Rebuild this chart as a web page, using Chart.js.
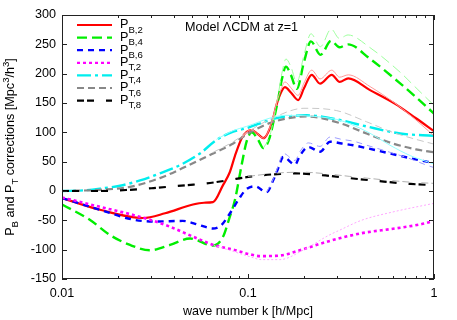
<!DOCTYPE html>
<html>
<head>
<meta charset="utf-8">
<script src="https://cdn.jsdelivr.net/npm/chart.js@4/dist/chart.umd.min.js"></script>
<style>
  html, body { margin: 0; padding: 0; background: #fff; }
  #wrap { width: 457px; height: 320px; }
</style>
</head>
<body>
<div id="wrap"><canvas id="corrCanvas" width="457" height="320"></canvas></div>
<script>
// values (k in h/Mpc, corrections in Mpc^3/h^3)
const kB2 = [0.01, 0.016, 0.0272, 0.0358, 0.0506, 0.058, 0.0648, 0.0734, 0.0798, 0.0851, 0.0925, 0.0984, 0.1047, 0.113, 0.121, 0.134, 0.143, 0.15, 0.158, 0.17, 0.186, 0.2, 0.22, 0.244, 0.282, 0.311, 0.346, 0.453, 0.615, 0.8, 1.0];
const pB2 = [-12, -32, -46, -38, -23, -20, -19, 10, 32, 60, 90, 101, 104, 97, 90, 115, 149, 167, 177, 168, 155, 175, 198, 183, 198, 186, 192, 172, 149, 124, 102];
const kB2thin = [0.0925, 0.0984, 0.1047, 0.113, 0.121, 0.134, 0.143, 0.15, 0.158, 0.17, 0.186, 0.2, 0.22, 0.244, 0.282, 0.311, 0.346, 0.453, 0.615, 0.8, 1.0];
const pB2thin = [90, 101, 104, 97, 90, 117, 152, 172, 186, 176, 163, 184, 206, 191, 206, 194, 198, 178, 150, 121, 94];

const kB4 = [0.01, 0.0141, 0.0181, 0.0232, 0.0297, 0.0381, 0.0488, 0.065, 0.0734, 0.0798, 0.0851, 0.0925, 0.0984, 0.1047, 0.113, 0.121, 0.131, 0.14, 0.145, 0.152, 0.16, 0.17, 0.183, 0.2, 0.218, 0.245, 0.28, 0.31, 0.345, 0.45, 0.66, 0.8, 1.0];
const pB4 = [-23, -49, -75, -92, -101, -92, -81, -93, -78, -44, -15, 45, 85, 100, 88, 73, 92, 132, 155, 190, 212, 198, 174, 220, 255, 232, 256, 245, 250, 226, 183, 160, 132];
const kB4thin = [0.121, 0.131, 0.14, 0.145, 0.152, 0.16, 0.17, 0.183, 0.2, 0.218, 0.245, 0.28, 0.31, 0.345, 0.45, 0.66, 0.8, 1.0];
const pB4thin = [73, 94, 136, 162, 200, 225, 212, 185, 232, 268, 246, 276, 260, 266, 245, 202, 176, 146];

const kB6 = [0.01, 0.016, 0.0243, 0.0321, 0.0445, 0.0546, 0.0647, 0.072, 0.08, 0.09, 0.098, 0.109, 0.126, 0.137, 0.145, 0.155, 0.179, 0.19, 0.211, 0.244, 0.276, 0.319, 0.368, 0.435, 0.58, 0.743, 0.914, 1.0];
const pB6 = [-12, -32, -49, -52, -51, -58, -64, -58, -38, -12, 3, 8, -2, 19, 38, 58, 45, 60, 75, 67, 84, 81, 78, 73, 64, 56, 50, 48];
const kB6thin = [0.126, 0.137, 0.145, 0.155, 0.179, 0.19, 0.211, 0.244, 0.276, 0.319, 0.368, 0.435, 0.58, 0.743, 0.914, 1.0];
const pB6thin = [-2, 21, 42, 64, 52, 67, 82, 76, 92, 88, 85, 78, 66, 55, 44, 40];

const kT2 = [0.01, 0.016, 0.0223, 0.0297, 0.0381, 0.0508, 0.0652, 0.0833, 0.1025, 0.116, 0.148, 0.19, 0.269, 0.407, 0.615, 0.84, 1.0];
const pT2 = [-11, -27, -38, -49, -61, -78, -92, -100, -108, -111, -110, -101, -86, -72, -64, -57, -51];
const kT2thin = [0.0652, 0.0833, 0.1025, 0.118, 0.148, 0.2, 0.27, 0.31, 0.407, 0.615, 1.0];
const pT2thin = [-92, -103, -112, -117, -117, -100, -76, -67, -50, -35, -21];

const kT4 = [0.01, 0.013, 0.016, 0.0205, 0.0263, 0.0336, 0.043, 0.0552, 0.0677, 0.0833, 0.098, 0.137, 0.16, 0.207, 0.312, 0.434, 0.658, 1.0];
const pT4 = [0, 1, 4, 9, 18, 30, 44, 64, 87, 101, 107, 123, 127, 129, 121, 110, 98, 94];
const kT4thin = [0.0677, 0.0833, 0.098, 0.137, 0.16, 0.207, 0.3, 0.35, 0.45, 0.58, 0.75, 1.0];
const pT4thin = [88, 103, 110, 126, 129, 128, 122, 115, 99, 78, 60, 46];

const kT6 = [0.01, 0.016, 0.0232, 0.0336, 0.0445, 0.065, 0.0833, 0.1, 0.137, 0.207, 0.31, 0.434, 0.6, 0.8, 1.0];
const pT6 = [0, 2, 7, 22, 39, 64, 81, 98, 118, 127, 116, 98, 81, 71, 66];
const kT6thin = [0.065, 0.0833, 0.1, 0.137, 0.2, 0.3, 0.434, 0.6, 0.8, 1.0];
const pT6thin = [66, 84, 101, 125, 141, 137, 118, 100, 88, 80];

const kT8 = [0.01, 0.016, 0.023, 0.031, 0.047, 0.06, 0.077, 0.1, 0.12, 0.15, 0.18, 0.25, 0.35, 0.5, 0.75, 1.0];
const pT8 = [0, 0, 2, 5, 10, 13, 18, 24, 27, 29, 30, 27, 22, 17, 12, 10];
const kT8thin = [0.1, 0.15, 0.2, 0.25, 0.35, 0.5, 0.75, 1.0];
const pT8thin = [25, 31, 32, 30, 25, 20, 15, 13];

const xTicks = [0.01, 0.1, 1];
const yTicks = [-150, -100, -50, 0, 50, 100, 150, 200, 250, 300];

const legendItems = [
    { sub: "B,2", color: "#ff0000", dash: [] },
    { sub: "B,4", color: "#00ee00", dash: [10, 5] },
    { sub: "B,6", color: "#0000ff", dash: [6, 5] },
    { sub: "T,2", color: "#ff00ff", dash: [3, 3] },
    { sub: "T,4", color: "#00eeee", dash: [14, 4, 3, 4] },
    { sub: "T,6", color: "#888888", dash: [7, 4] },
    { sub: "T,8", color: "#000000", dash: [7, 3, 7, 12] },
];

const FONT = "Liberation Sans, Arial, Helvetica, sans-serif";

function pts(k, v) {
    return k.map((x, i) => ({ x: x, y: v[i] }));
}

function line(data, color, width, dash) {
    return {
        data: data,
        borderColor: color,
        borderWidth: width,
        borderDash: dash,
        pointRadius: 0,
        fill: false,
        cubicInterpolationMode: "monotone",
    };
}

const datasets = [
    line(pts(kB2thin, pB2thin), "#ff9a9a", 1, []),
    line(pts(kB4thin, pB4thin), "#9cff9c", 1, [10, 5]),
    line(pts(kB6thin, pB6thin), "#9c9cff", 1, [6, 5]),
    line(pts(kT2thin, pT2thin), "#ffa6ff", 1, [2, 2]),
    line(pts(kT4thin, pT4thin), "#90ffff", 1, []),
    line(pts(kT6thin, pT6thin), "#c8c8c8", 1, [7, 4]),
    line(pts(kT8thin, pT8thin), "#b0b0b0", 1, [7, 3, 7, 12]),
    line(pts(kT8, pT8), "#000000", 2.2, [7, 3, 7, 12]),
    line(pts(kT6, pT6), "#888888", 2.2, [7, 4]),
    line(pts(kT4, pT4), "#00eeee", 2.4, [14, 4, 3, 4]),
    line(pts(kT2, pT2), "#ff00ff", 2.6, [3, 3]),
    line(pts(kB6, pB6), "#0000ff", 2.4, [6, 5]),
    line(pts(kB4, pB4), "#00ee00", 2.4, [10, 5]),
    line(pts(kB2, pB2), "#ff0000", 2.2, []),
];

// frame, inward ticks, legend with subscripts, y title with sub/superscripts
const decorPlugin = {
    id: "decor",
    afterDraw(chart) {
        const ctx = chart.ctx;
        const a = chart.chartArea;
        const xs = chart.scales.x;
        const ys = chart.scales.y;
        ctx.save();

        ctx.strokeStyle = "#222";
        ctx.lineWidth = 1;
        ctx.setLineDash([]);
        ctx.strokeRect(a.left + 0.5, a.top + 0.5, a.right - a.left - 1, a.bottom - a.top - 1);

        ctx.beginPath();
        for (let d = 0.01; d < 1; d *= 10) {
            for (let m = 1; m <= 10; m++) {
                const v = d * m;
                const px = Math.round(xs.getPixelForValue(v)) + 0.5;
                const len = m === 1 || m === 10 ? 5 : 3;
                ctx.moveTo(px, a.bottom);
                ctx.lineTo(px, a.bottom - len);
                ctx.moveTo(px, a.top);
                ctx.lineTo(px, a.top + len);
            }
        }
        yTicks.forEach((v) => {
            const py = Math.round(ys.getPixelForValue(v)) + 0.5;
            ctx.moveTo(a.left, py);
            ctx.lineTo(a.left + 5, py);
            ctx.moveTo(a.right, py);
            ctx.lineTo(a.right - 5, py);
        });
        ctx.stroke();

        // legend
        ctx.textBaseline = "middle";
        ctx.textAlign = "left";
        legendItems.forEach((it, i) => {
            const y = 25 + i * 12.6;
            ctx.strokeStyle = it.color;
            ctx.lineWidth = 2.2;
            ctx.setLineDash(it.dash);
            ctx.beginPath();
            ctx.moveTo(77, y);
            ctx.lineTo(112, y);
            ctx.stroke();
            ctx.setLineDash([]);
            ctx.fillStyle = "#000";
            ctx.font = "12.6px " + FONT;
            ctx.fillText("P", 120, y);
            const w = ctx.measureText("P").width;
            ctx.font = "9.6px " + FONT;
            ctx.fillText(it.sub, 120 + w, y + 5);
        });

        // model label
        ctx.font = "12.6px " + FONT;
        ctx.fillText("Model \u039BCDM at z=1", 185, 28);

        // x title
        ctx.textAlign = "center";
        ctx.fillText("wave number k [h/Mpc]", (a.left + a.right) / 2, 312);

        // y title
        const parts = [
            ["P", 0], ["B", 1], [" and P", 0], ["T", 1],
            [" corrections [Mpc", 0], ["3", -1], ["/h", 0], ["3", -1], ["]", 0],
        ];
        const fontFor = (s) => (s === 0 ? "12.6px " : "9.6px ") + FONT;
        let total = 0;
        parts.forEach((p) => {
            ctx.font = fontFor(p[1]);
            total += ctx.measureText(p[0]).width;
        });
        ctx.translate(11, 147);
        ctx.rotate(-Math.PI / 2);
        ctx.textAlign = "left";
        let x = -total / 2;
        parts.forEach((p) => {
            ctx.font = fontFor(p[1]);
            const off = p[1] === 1 ? 4.5 : p[1] === -1 ? -5 : 0;
            ctx.fillText(p[0], x, off);
            x += ctx.measureText(p[0]).width;
        });
        ctx.restore();
    },
};

const ctx = document.getElementById("corrCanvas").getContext("2d");
const corrChart = new Chart(ctx, {
    type: "line",
    data: { datasets: datasets },
    options: {
        responsive: false,
        animation: false,
        events: [],
        layout: { padding: { left: 0, right: 23, top: 15, bottom: 0 } },
        plugins: {
            legend: { display: false },
            tooltip: { enabled: false },
        },
        scales: {
            x: {
                type: "logarithmic",
                min: 0.01,
                max: 1,
                afterBuildTicks: (scale) => {
                    scale.ticks = xTicks.map((v) => ({ value: v }));
                },
                afterFit: (scale) => {
                    scale.height = 41;
                },
                grid: { display: false, drawTicks: false },
                border: { display: false },
                ticks: {
                    color: "#000",
                    font: { family: FONT, size: 12.6 },
                    padding: 7,
                    maxRotation: 0,
                    autoSkip: false,
                    callback: (v) => String(v),
                },
            },
            y: {
                type: "linear",
                min: -150,
                max: 300,
                afterBuildTicks: (scale) => {
                    scale.ticks = yTicks.map((v) => ({ value: v }));
                },
                afterFit: (scale) => {
                    scale.width = 62;
                },
                grid: { display: false, drawTicks: false },
                border: { display: false },
                ticks: {
                    color: "#000",
                    font: { family: FONT, size: 12.6 },
                    padding: 6,
                },
            },
        },
    },
    plugins: [decorPlugin],
});
</script>
</body>
</html>
